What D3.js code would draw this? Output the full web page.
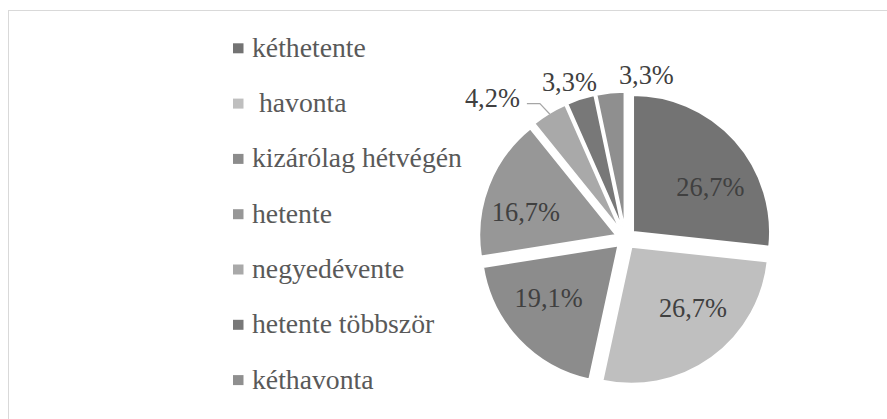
<!DOCTYPE html>
<html><head><meta charset="utf-8">
<script src="https://cdn.jsdelivr.net/npm/d3@7"></script>
<style>
body{margin:0;background:#fff}
svg{display:block}
text{font-family:"Liberation Serif","Times New Roman",serif}
</style>
</head><body>
<svg id="c" width="887" height="419"></svg>
<script>
const categories = ["kéthetente", " havonta", "kizárólag hétvégén", "hetente", "negyedévente", "hetente többször", "kéthavonta"];
const values = [26.7, 26.7, 19.1, 16.7, 4.2, 3.3, 3.3];
const colors = ["#737373", "#bfbfbf", "#8c8c8c", "#979797", "#a9a9a9", "#787878", "#8f8f8f"];

const fmt = v => d3.format(".1f")(v).replace(".", ",") + "%";
const svg = d3.select("#c");
svg.append("rect").attr("x", 8.5).attr("y", 10.5).attr("width", 900).attr("height", 420)
  .attr("fill", "#fff").attr("stroke", "#d9d9d9").attr("stroke-width", 1);

const cx = 625.6, cy = 238.7, r = 137, explode = 10, fs = 26.4, legFs = 27.7;
const pieData = d3.pie().sort(null).value(d => d)(values);
pieData.forEach(p => {
  p.mid = (p.startAngle + p.endAngle) / 2;
  p.sx = Math.sin(p.mid); p.sy = -Math.cos(p.mid);
  p.ox = explode * p.sx; p.oy = explode * p.sy;
});
const arc = d3.arc().innerRadius(0).outerRadius(r);
const g = svg.append("g").attr("transform", `translate(${cx},${cy})`);
g.selectAll("path.slice").data(pieData).join("path").attr("class", "slice")
  .attr("d", arc)
  .attr("transform", d => `translate(${d.ox},${d.oy})`)
  .attr("fill", (d, i) => colors[i])
  .attr("stroke", "#fff").attr("stroke-width", 2);

// inside labels
const inside = pieData.filter(d => d.value >= 10);
g.selectAll("text.in").data(inside).join("text").attr("class", "in")
  .attr("x", d => d.ox + 100 * d.sx + 3)
  .attr("y", d => d.oy + 72 * d.sy + 3)
  .attr("dy", "0.33em")
  .attr("text-anchor", "middle")
  .attr("font-size", fs).attr("fill", "#404040")
  .text(d => fmt(d.value));

// outside labels
const outside = pieData.filter(d => d.value < 10);
const h = 20;
const outT = g.selectAll("text.out").data(outside).join("text").attr("class", "out")
  .attr("text-anchor", "middle").attr("dy", "0.33em")
  .attr("font-size", fs).attr("fill", "#404040")
  .text(d => fmt(d.value));
outT.each(function (d) {
  d.w = this.getComputedTextLength();
  d.ax = d.ox + (r - 1) * d.sx; d.ay = d.oy + (r - 1) * d.sy;
  d.lx = d.ax + d.sx * 8 + d.sx * d.w / 2;
  d.ly = d.ay + d.sy * 8 + d.sy * h / 2;
});
const sorted = outside.slice().sort((a, b) => a.lx - b.lx);
for (let it = 0; it < 200; it++) {
  for (let k = 0; k < sorted.length - 1; k++) {
    const a = sorted[k], b = sorted[k + 1];
    const sep = (a.w + b.w) / 2 + 22;
    const gap = b.lx - a.lx;
    if (gap < sep) { const m = (sep - gap) / 2; a.lx -= m; b.lx += m; }
  }
}
outT.attr("x", d => d.lx).attr("y", d => d.ly);
// leader lines
outside.forEach(d => {
  const left = d.lx - d.w / 2, right = d.lx + d.w / 2, top = d.ly - h / 2, bot = d.ly + h / 2;
  const dx = Math.max(left - d.ax, 0, d.ax - right), dy = Math.max(top - d.ay, 0, d.ay - bot);
  if (Math.hypot(dx, dy) > 15) {
    const side = d.ax > d.lx ? 1 : -1;
    const x0 = d.lx + side * (d.w / 2 + 7), y0 = d.ly + 5;
    g.append("polyline")
      .attr("points", [[x0, y0], [x0 + side * 13, y0], [d.ax, d.ay]].map(p => p.join(",")).join(" "))
      .attr("fill", "none").attr("stroke", "#a6a6a6").attr("stroke-width", 1.2);
  }
});

// legend
const leg = svg.append("g");
const items = leg.selectAll("g").data(categories).join("g")
  .attr("transform", (d, i) => `translate(233,${48.3 + i * 55.3})`);
items.append("rect").attr("x", 0).attr("y", -5).attr("width", 10.5).attr("height", 10)
  .attr("fill", (d, i) => colors[i]);
items.append("text").attr("x", 19).attr("y", 8.5)
  .attr("font-size", legFs).attr("fill", "#595959")
  .attr("xml:space", "preserve").style("white-space", "pre")
  .text(d => d);
</script>
</body></html>
